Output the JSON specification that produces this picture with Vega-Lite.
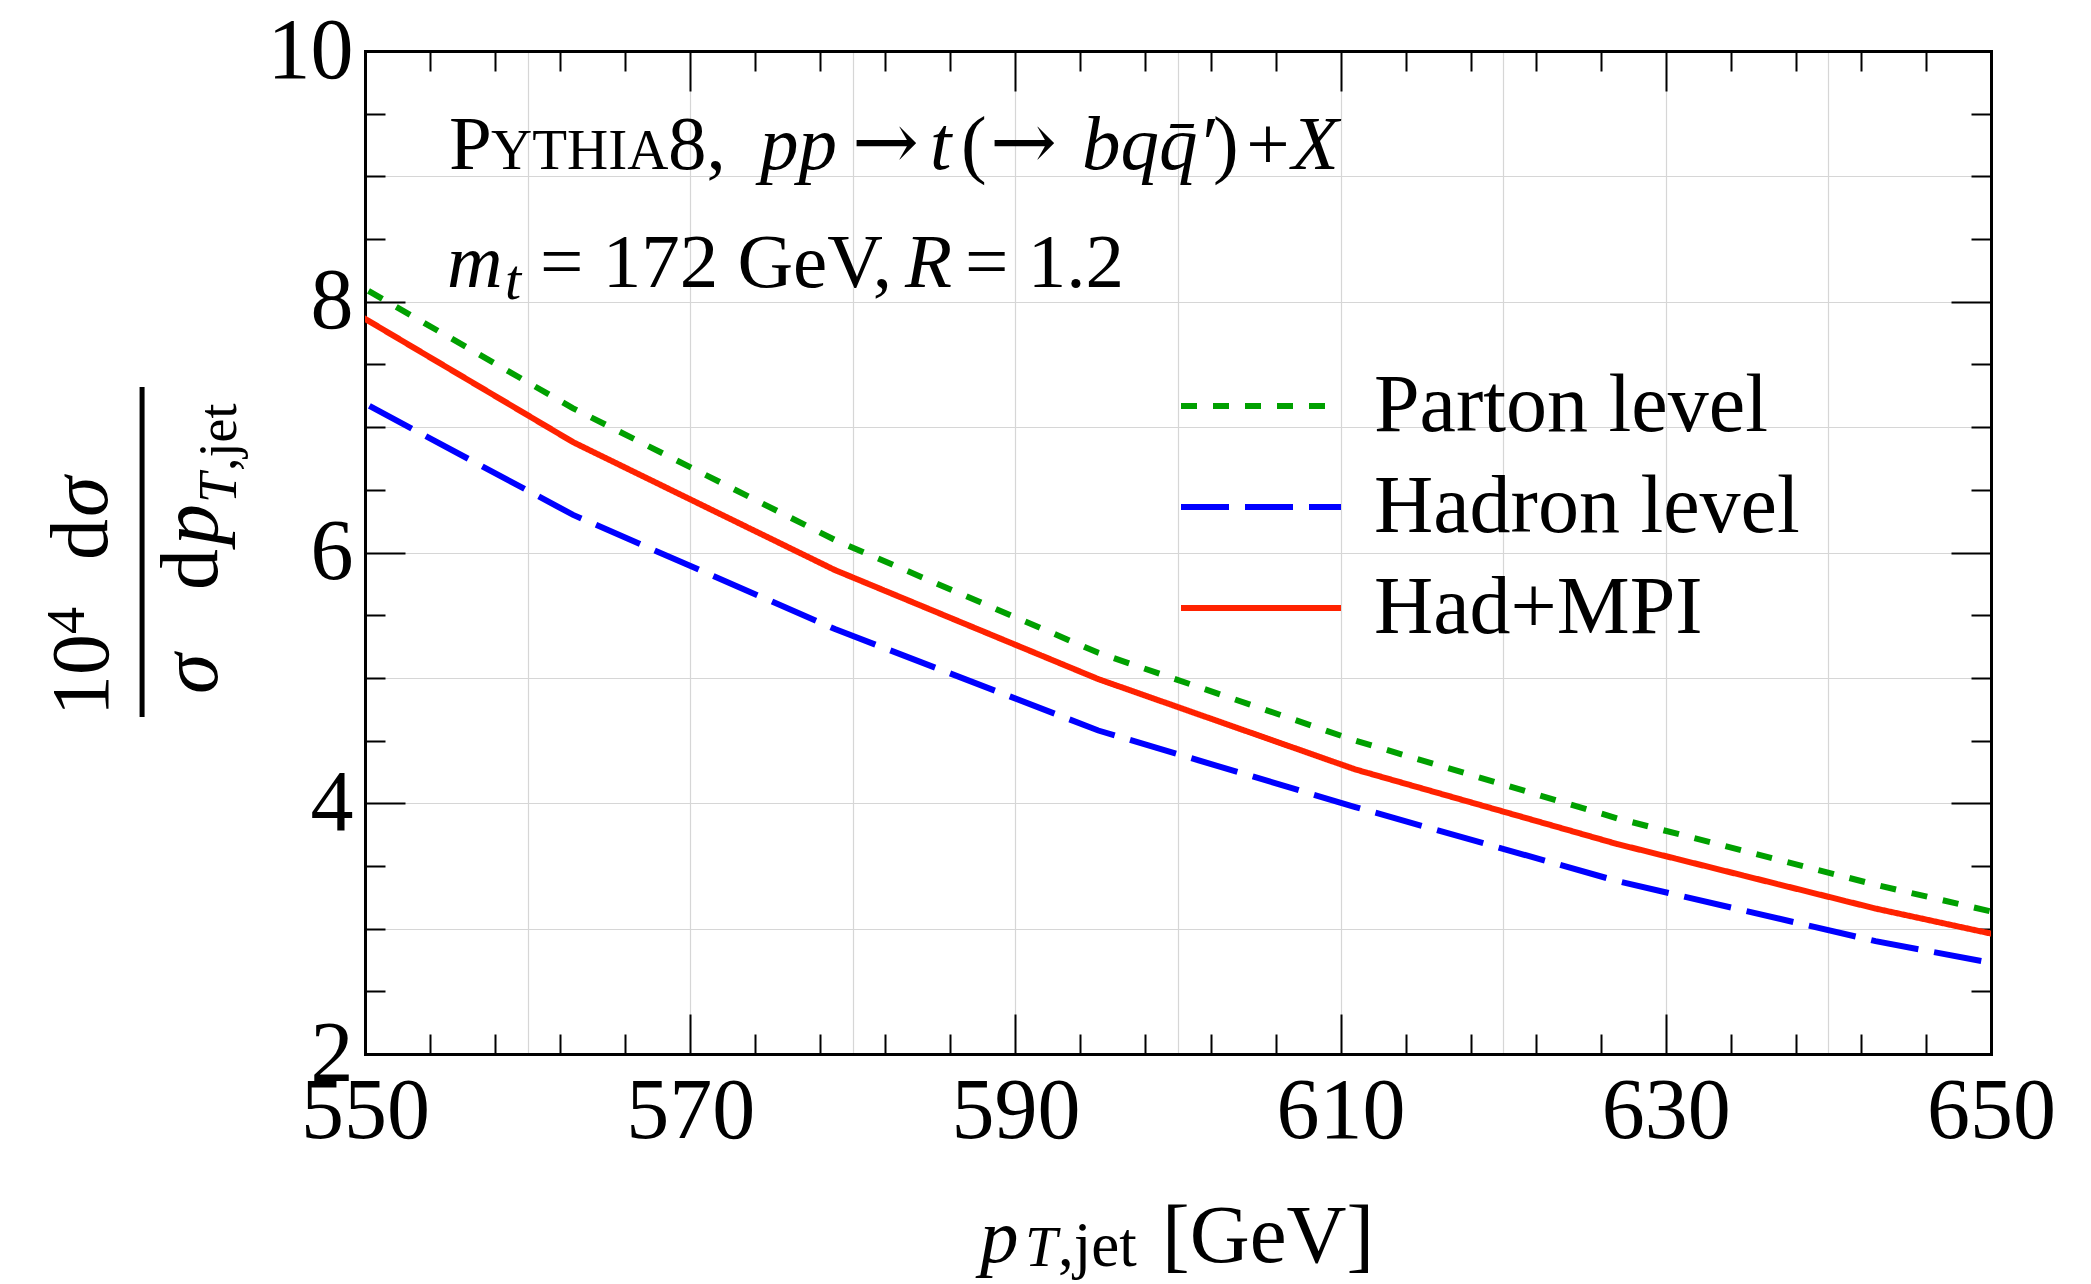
{
  "$schema": "https://vega.github.io/schema/vega-lite/v6.json",
  "width": 1626,
  "height": 1003,
  "autosize": {"type": "none"},
  "padding": {"left": 365, "top": 51, "right": 100, "bottom": 230},
  "background": "white",
  "config": {
    "view": {"stroke": null},
    "axis": {"labelFont": "Liberation Serif", "labelColor": "black", "tickColor": "black", "domainColor": "black", "domainWidth": 3, "domainCap": "square", "tickWidth": 2, "labelFlush": false, "labelOverlap": false, "gridColor": "#d6d6d6", "gridWidth": 1.2}
  },
  "datasets": {
    "series": [
      {"x": 546.8, "y": 8.34, "s": "Parton level"},
      {"x": 562.8, "y": 7.15, "s": "Parton level"},
      {"x": 578.9, "y": 6.10, "s": "Parton level"},
      {"x": 595.1, "y": 5.20, "s": "Parton level"},
      {"x": 610.9, "y": 4.50, "s": "Parton level"},
      {"x": 627.0, "y": 3.88, "s": "Parton level"},
      {"x": 642.9, "y": 3.35, "s": "Parton level"},
      {"x": 658.9, "y": 2.87, "s": "Parton level"},
      {"x": 546.8, "y": 7.41, "s": "Hadron level"},
      {"x": 562.8, "y": 6.30, "s": "Hadron level"},
      {"x": 578.9, "y": 5.39, "s": "Hadron level"},
      {"x": 595.1, "y": 4.58, "s": "Hadron level"},
      {"x": 610.9, "y": 3.97, "s": "Hadron level"},
      {"x": 627.0, "y": 3.38, "s": "Hadron level"},
      {"x": 642.9, "y": 2.90, "s": "Hadron level"},
      {"x": 658.9, "y": 2.51, "s": "Hadron level"},
      {"x": 546.8, "y": 8.11, "s": "Had+MPI"},
      {"x": 562.8, "y": 6.88, "s": "Had+MPI"},
      {"x": 578.9, "y": 5.86, "s": "Had+MPI"},
      {"x": 595.1, "y": 4.99, "s": "Had+MPI"},
      {"x": 610.9, "y": 4.27, "s": "Had+MPI"},
      {"x": 627.0, "y": 3.675, "s": "Had+MPI"},
      {"x": 642.9, "y": 3.16, "s": "Had+MPI"},
      {"x": 658.9, "y": 2.71, "s": "Had+MPI"}
    ],
    "n77": [
      {"t": "P", "x": 555.17, "y": 9.059},
      {"t": "8,", "x": 568.63, "y": 9.059},
      {"t": "(", "x": 586.65, "y": 9.059},
      {"t": ")", "x": 602.15, "y": 9.059},
      {"t": "+", "x": 604.2, "y": 9.059},
      {"t": "= 172 GeV,", "x": 560.76, "y": 8.118},
      {"t": "= 1.2", "x": 586.9, "y": 8.118}
    ],
    "arrows": [
      {"t": "→", "x": 579.95, "y": 9.059},
      {"t": "→", "x": 588.44, "y": 9.059}
    ],
    "n83": [
      {"t": "[GeV]", "x": 599.02, "y": 0.341}
    ],
    "n57": [
      {"t": "YTHIA", "x": 557.75, "y": 9.059}
    ],
    "i77": [
      {"t": "pp", "x": 574.29, "y": 9.059},
      {"t": "t", "x": 584.75, "y": 9.059},
      {"t": "bqq̄′", "x": 594.10, "y": 9.059},
      {"t": "X", "x": 607.0, "y": 9.059},
      {"t": "m", "x": 555.04, "y": 8.118},
      {"t": "R", "x": 583.21, "y": 8.118},
      {"t": "p", "x": 587.82, "y": 0.341}
    ],
    "i58": [
      {"t": "t", "x": 558.61, "y": 8.022},
      {"t": "T", "x": 590.59, "y": 0.309}
    ],
    "n63": [
      {"t": ",jet", "x": 592.62, "y": 0.309}
    ],
    "rn82": [
      {"t": "10", "x": 534.19, "y": 4.696},
      {"t": "d", "x": 534.13, "y": 5.94},
      {"t": "d", "x": 540.9, "y": 5.70}
    ],
    "ri82": [
      {"t": "σ", "x": 534.13, "y": 6.283},
      {"t": "σ", "x": 540.9, "y": 4.871},
      {"t": "p", "x": 540.9, "y": 6.06}
    ],
    "rn54": [
      {"t": "4", "x": 532.72, "y": 5.35},
      {"t": ",jet", "x": 542.07, "y": 6.65}
    ],
    "ri54": [
      {"t": "T", "x": 542.07, "y": 6.395}
    ],
    "bar": [
      {"x": 536.29, "y": 7.32, "y2": 4.688}
    ]
  },
  "layer": [
    {
      "data": {"name": "series"},
      "mark": {"type": "point", "opacity": 0},
      "encoding": {
        "x": {"field": "x", "type": "quantitative", "scale": {"domain": [550, 650], "nice": false, "zero": false},
          "axis": {"orient": "bottom", "values": [560, 570, 580, 590, 600, 610, 620, 630, 640], "grid": true, "ticks": false, "labels": false, "domain": false, "title": null}},
        "y": {"field": "y", "type": "quantitative", "scale": {"domain": [2, 10], "nice": false, "zero": false},
          "axis": {"orient": "left", "values": [3, 4, 5, 6, 7, 8, 9], "grid": true, "ticks": false, "labels": false, "domain": false, "title": null}}
      }
    },
    {
      "data": {"name": "series"},
      "mark": {"type": "point", "opacity": 0},
      "encoding": {
        "x": {"field": "x", "type": "quantitative", "scale": {"domain": [550, 650], "nice": false, "zero": false},
          "axis": {"orient": "bottom", "values": [554, 558, 562, 566, 574, 578, 582, 586, 594, 598, 602, 606, 614, 618, 622, 626, 634, 638, 642, 646], "grid": false, "ticks": true, "tickSize": -20, "labels": false, "domain": false, "title": null}},
        "y": {"field": "y", "type": "quantitative", "scale": {"domain": [2, 10], "nice": false, "zero": false},
          "axis": {"orient": "left", "values": [2.5, 3, 3.5, 4.5, 5, 5.5, 6.5, 7, 7.5, 8.5, 9, 9.5], "grid": false, "ticks": true, "tickSize": -20, "labels": false, "domain": false, "title": null}}
      }
    },
    {
      "data": {"name": "series"},
      "mark": {"type": "point", "opacity": 0},
      "encoding": {
        "x": {"field": "x", "type": "quantitative", "scale": {"domain": [550, 650], "nice": false, "zero": false},
          "axis": {"orient": "top", "values": [554, 558, 562, 566, 574, 578, 582, 586, 594, 598, 602, 606, 614, 618, 622, 626, 634, 638, 642, 646], "grid": false, "ticks": true, "tickSize": -20, "labels": false, "domain": false, "title": null}},
        "y": {"field": "y", "type": "quantitative", "scale": {"domain": [2, 10], "nice": false, "zero": false},
          "axis": {"orient": "right", "values": [2.5, 3, 3.5, 4.5, 5, 5.5, 6.5, 7, 7.5, 8.5, 9, 9.5], "grid": false, "ticks": true, "tickSize": -20, "labels": false, "domain": false, "title": null}}
      }
    },
    {
      "data": {"name": "series"},
      "mark": {"type": "point", "opacity": 0},
      "encoding": {
        "x": {"field": "x", "type": "quantitative", "scale": {"domain": [550, 650], "nice": false, "zero": false},
          "axis": {"orient": "top", "values": [570, 590, 610, 630], "grid": false, "ticks": true, "tickSize": -40, "labels": false, "domain": true, "title": null}},
        "y": {"field": "y", "type": "quantitative", "scale": {"domain": [2, 10], "nice": false, "zero": false},
          "axis": {"orient": "right", "values": [4, 6, 8], "grid": false, "ticks": true, "tickSize": -40, "labels": false, "domain": true, "title": null}}
      }
    },
    {
      "data": {"name": "series"},
      "mark": {"type": "point", "opacity": 0},
      "encoding": {
        "x": {"field": "x", "type": "quantitative", "scale": {"domain": [550, 650], "nice": false, "zero": false},
          "axis": {"orient": "bottom", "values": [570, 590, 610, 630], "grid": false, "ticks": true, "tickSize": -40, "labels": false, "domain": false, "title": null}},
        "y": {"field": "y", "type": "quantitative", "scale": {"domain": [2, 10], "nice": false, "zero": false},
          "axis": {"orient": "left", "values": [4, 6, 8], "grid": false, "ticks": true, "tickSize": -40, "labels": false, "domain": false, "title": null}}
      }
    },
    {
      "data": {"name": "series"},
      "mark": {"type": "line", "clip": true, "strokeWidth": 6, "strokeCap": "butt"},
      "encoding": {
        "x": {"field": "x", "type": "quantitative", "scale": {"domain": [550, 650], "nice": false, "zero": false},
          "axis": {"orient": "bottom", "values": [550, 570, 590, 610, 630, 650], "grid": false, "ticks": false, "labels": true, "labelFontSize": 86, "labelBaseline": "alphabetic", "labelPadding": 83, "domain": true, "title": null}},
        "y": {"field": "y", "type": "quantitative", "scale": {"domain": [2, 10], "nice": false, "zero": false},
          "axis": {"orient": "left", "values": [2, 4, 6, 8, 10], "grid": false, "ticks": false, "labels": true, "labelFontSize": 86, "labelBaseline": "middle", "labelPadding": 12, "domain": true, "title": null}},
        "color": {"field": "s", "type": "nominal",
          "scale": {"domain": ["Parton level", "Hadron level", "Had+MPI"], "range": ["#00a000", "#0000ff", "#ff2200"]},
          "legend": {"title": null, "orient": "none", "legendX": 813, "legendY": 314, "symbolType": "stroke", "symbolSize": 25600, "symbolStrokeWidth": 6, "clipHeight": 82, "labelFont": "Liberation Serif", "labelFontSize": 82, "labelColor": "black", "labelOffset": 30, "rowPadding": 19, "padding": 0, "labelLimit": 0}},
        "strokeDash": {"field": "s", "type": "nominal",
          "scale": {"domain": ["Parton level", "Hadron level", "Had+MPI"], "range": [[16, 16], [48, 16], [1, 0]]},
          "legend": {"title": null, "orient": "none", "legendX": 813, "legendY": 314, "symbolType": "stroke", "symbolSize": 25600, "symbolStrokeWidth": 6, "clipHeight": 82, "labelFont": "Liberation Serif", "labelFontSize": 82, "labelColor": "black", "labelOffset": 30, "rowPadding": 19, "padding": 0, "labelLimit": 0}}
      }
    },
    {
      "data": {"name": "n77"},
      "mark": {"type": "text", "font": "Liberation Serif", "fontSize": 77, "fontStyle": "normal", "align": "left", "baseline": "alphabetic", "color": "black"},
      "encoding": {
        "x": {"field": "x", "type": "quantitative", "scale": {"domain": [550, 650], "nice": false, "zero": false}, "axis": null},
        "y": {"field": "y", "type": "quantitative", "scale": {"domain": [2, 10], "nice": false, "zero": false}, "axis": null},
        "text": {"field": "t"}
      }
    },
    {
      "data": {"name": "arrows"},
      "mark": {"type": "text", "font": "DejaVu Serif", "fontSize": 80, "fontStyle": "normal", "align": "left", "baseline": "alphabetic", "color": "black"},
      "encoding": {
        "x": {"field": "x", "type": "quantitative", "scale": {"domain": [550, 650], "nice": false, "zero": false}, "axis": null},
        "y": {"field": "y", "type": "quantitative", "scale": {"domain": [2, 10], "nice": false, "zero": false}, "axis": null},
        "text": {"field": "t"}
      }
    },
    {
      "data": {"name": "n83"},
      "mark": {"type": "text", "font": "Liberation Serif", "fontSize": 83, "fontStyle": "normal", "align": "left", "baseline": "alphabetic", "color": "black"},
      "encoding": {
        "x": {"field": "x", "type": "quantitative", "scale": {"domain": [550, 650], "nice": false, "zero": false}, "axis": null},
        "y": {"field": "y", "type": "quantitative", "scale": {"domain": [2, 10], "nice": false, "zero": false}, "axis": null},
        "text": {"field": "t"}
      }
    },
    {
      "data": {"name": "n57"},
      "mark": {"type": "text", "font": "Liberation Serif", "fontSize": 57, "fontStyle": "normal", "align": "left", "baseline": "alphabetic", "color": "black"},
      "encoding": {
        "x": {"field": "x", "type": "quantitative", "scale": {"domain": [550, 650], "nice": false, "zero": false}, "axis": null},
        "y": {"field": "y", "type": "quantitative", "scale": {"domain": [2, 10], "nice": false, "zero": false}, "axis": null},
        "text": {"field": "t"}
      }
    },
    {
      "data": {"name": "i77"},
      "mark": {"type": "text", "font": "Liberation Serif", "fontSize": 77, "fontStyle": "italic", "align": "left", "baseline": "alphabetic", "color": "black"},
      "encoding": {
        "x": {"field": "x", "type": "quantitative", "scale": {"domain": [550, 650], "nice": false, "zero": false}, "axis": null},
        "y": {"field": "y", "type": "quantitative", "scale": {"domain": [2, 10], "nice": false, "zero": false}, "axis": null},
        "text": {"field": "t"}
      }
    },
    {
      "data": {"name": "i58"},
      "mark": {"type": "text", "font": "Liberation Serif", "fontSize": 58, "fontStyle": "italic", "align": "left", "baseline": "alphabetic", "color": "black"},
      "encoding": {
        "x": {"field": "x", "type": "quantitative", "scale": {"domain": [550, 650], "nice": false, "zero": false}, "axis": null},
        "y": {"field": "y", "type": "quantitative", "scale": {"domain": [2, 10], "nice": false, "zero": false}, "axis": null},
        "text": {"field": "t"}
      }
    },
    {
      "data": {"name": "n63"},
      "mark": {"type": "text", "font": "Liberation Serif", "fontSize": 63, "fontStyle": "normal", "align": "left", "baseline": "alphabetic", "color": "black"},
      "encoding": {
        "x": {"field": "x", "type": "quantitative", "scale": {"domain": [550, 650], "nice": false, "zero": false}, "axis": null},
        "y": {"field": "y", "type": "quantitative", "scale": {"domain": [2, 10], "nice": false, "zero": false}, "axis": null},
        "text": {"field": "t"}
      }
    },
    {
      "data": {"name": "rn82"},
      "mark": {"type": "text", "font": "Liberation Serif", "fontSize": 82, "fontStyle": "normal", "align": "left", "baseline": "alphabetic", "angle": 270, "color": "black"},
      "encoding": {
        "x": {"field": "x", "type": "quantitative", "scale": {"domain": [550, 650], "nice": false, "zero": false}, "axis": null},
        "y": {"field": "y", "type": "quantitative", "scale": {"domain": [2, 10], "nice": false, "zero": false}, "axis": null},
        "text": {"field": "t"}
      }
    },
    {
      "data": {"name": "ri82"},
      "mark": {"type": "text", "font": "Liberation Serif", "fontSize": 82, "fontStyle": "italic", "align": "left", "baseline": "alphabetic", "angle": 270, "color": "black"},
      "encoding": {
        "x": {"field": "x", "type": "quantitative", "scale": {"domain": [550, 650], "nice": false, "zero": false}, "axis": null},
        "y": {"field": "y", "type": "quantitative", "scale": {"domain": [2, 10], "nice": false, "zero": false}, "axis": null},
        "text": {"field": "t"}
      }
    },
    {
      "data": {"name": "rn54"},
      "mark": {"type": "text", "font": "Liberation Serif", "fontSize": 54, "fontStyle": "normal", "align": "left", "baseline": "alphabetic", "angle": 270, "color": "black"},
      "encoding": {
        "x": {"field": "x", "type": "quantitative", "scale": {"domain": [550, 650], "nice": false, "zero": false}, "axis": null},
        "y": {"field": "y", "type": "quantitative", "scale": {"domain": [2, 10], "nice": false, "zero": false}, "axis": null},
        "text": {"field": "t"}
      }
    },
    {
      "data": {"name": "ri54"},
      "mark": {"type": "text", "font": "Liberation Serif", "fontSize": 54, "fontStyle": "italic", "align": "left", "baseline": "alphabetic", "angle": 270, "color": "black"},
      "encoding": {
        "x": {"field": "x", "type": "quantitative", "scale": {"domain": [550, 650], "nice": false, "zero": false}, "axis": null},
        "y": {"field": "y", "type": "quantitative", "scale": {"domain": [2, 10], "nice": false, "zero": false}, "axis": null},
        "text": {"field": "t"}
      }
    },
    {
      "data": {"name": "bar"},
      "mark": {"type": "rule", "strokeWidth": 5, "color": "black"},
      "encoding": {
        "x": {"field": "x", "type": "quantitative", "scale": {"domain": [550, 650], "nice": false, "zero": false}, "axis": null},
        "y": {"field": "y", "type": "quantitative", "scale": {"domain": [2, 10], "nice": false, "zero": false}, "axis": null},
        "y2": {"field": "y2"}
      }
    }
  ],
  "resolve": {"axis": {"x": "independent", "y": "independent"}}
}
